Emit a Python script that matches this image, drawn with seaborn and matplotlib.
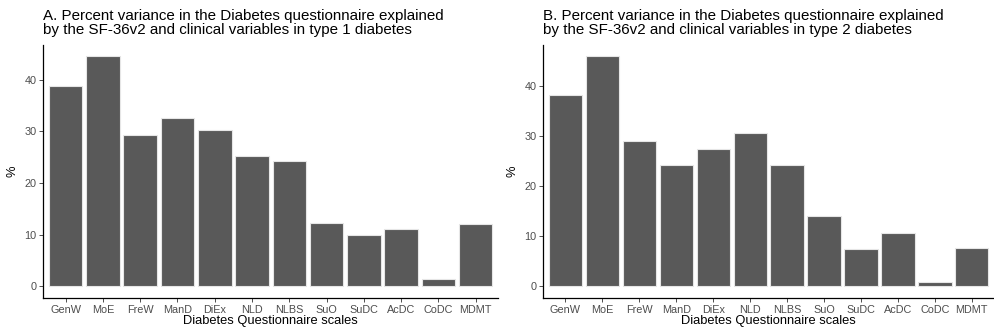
import matplotlib
matplotlib.use("Agg")
import matplotlib.pyplot as plt
import seaborn as sns
import pandas as pd

scales = ["GenW", "MoE", "FreW", "ManD", "DiEx", "NLD", "NLBS", "SuO", "SuDC", "AcDC", "CoDC", "MDMT"]
type1_pct = [38.8, 44.5, 29.3, 32.6, 30.3, 25.3, 24.2, 12.2, 9.9, 11.0, 1.4, 12.1]
type2_pct = [38.3, 46.0, 29.0, 24.2, 27.5, 30.6, 24.2, 14.0, 7.4, 10.6, 0.9, 7.7]
titles = [
    "A. Percent variance in the Diabetes questionnaire explained\nby the SF-36v2 and clinical variables in type 1 diabetes",
    "B. Percent variance in the Diabetes questionnaire explained\nby the SF-36v2 and clinical variables in type 2 diabetes",
]
yticks = [0, 10, 20, 30, 40]

sns.set_theme(style="ticks")
plt.rcParams["font.family"] = ["Liberation Sans", "DejaVu Sans"]

fig = plt.figure(figsize=(9.95, 3.32), dpi=100)
positions = [
    [43.3 / 995, 1 - 297.7 / 332, (498 - 43.3) / 995, (297.7 - 45) / 332],
    [543.3 / 995, 1 - 297.7 / 332, (994 - 543.3) / 995, (297.7 - 45) / 332],
]

for pos, vals, title in zip(positions, [type1_pct, type2_pct], titles):
    ax = fig.add_axes(pos)
    df = pd.DataFrame({"scale": scales, "pct": vals})
    sns.barplot(data=df, x="scale", y="pct", color="#595959", width=0.9,
                edgecolor="#e6e6e6", linewidth=0.8, saturation=1, ax=ax)
    vmax = max(vals)
    ax.set_ylim(-0.05 * vmax, vmax * 1.05)
    ax.set_xlim(-0.6, len(scales) - 0.4)
    ax.set_yticks(yticks)
    ax.set_xlabel("Diabetes Questionnaire scales", fontsize=9.3, color="black", labelpad=0.5)
    ax.set_ylabel("%", fontsize=9.3, color="black", labelpad=4)
    ax.tick_params(axis="both", labelsize=7.8, colors="#4d4d4d", length=3, width=0.7, pad=2)
    for s in ["left", "bottom"]:
        ax.spines[s].set_color("black")
        ax.spines[s].set_linewidth(0.9)
    for s in ["top", "right"]:
        ax.spines[s].set_visible(False)
    ax.text(0, 1 + 8 / 253, title, transform=ax.transAxes, ha="left", va="bottom",
            fontsize=10.9, color="black", linespacing=1.0)

fig.savefig("out.png", dpi=100)
